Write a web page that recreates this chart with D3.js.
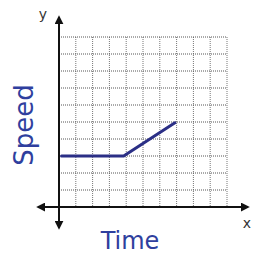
<!DOCTYPE html>
<html>
<head>
<meta charset="utf-8">
<script src="https://cdn.jsdelivr.net/npm/d3@7"></script>
<style>
  body { margin: 0; background: #fff; }
  svg { display: block; }
</style>
</head>
<body>
<svg width="253" height="256"></svg>
<script>
// values (grid units, 0..10 both ways)
var timeVals = [0.15, 3.85, 6.9];
var speedVals = [3, 3, 4.95];
var xLabel = "Time", yLabel = "Speed";

var svg = d3.select("svg");

var x = d3.scaleLinear().domain([0, 10]).range([59, 227]);
var y = d3.scaleLinear().domain([0, 10]).range([207, 37]);

var defs = svg.append("defs");
defs.append("marker")
  .attr("id", "arrow")
  .attr("viewBox", "0 0 10 10")
  .attr("refX", 8).attr("refY", 5)
  .attr("markerWidth", 4.5).attr("markerHeight", 4.5)
  .attr("orient", "auto-start-reverse")
  .append("path")
  .attr("d", "M0,0 L10,5 L0,10 z")
  .attr("fill", "#111");

// grid
var grid = svg.append("g");
grid.selectAll("line.v")
  .data(x.ticks(10))
  .enter().append("line")
  .attr("x1", function (d) { return x(d); })
  .attr("x2", function (d) { return x(d); })
  .attr("y1", y(10)).attr("y2", y(0))
  .attr("stroke", "#777")
  .attr("stroke-width", 1)
  .attr("stroke-dasharray", "1,1");
grid.selectAll("line.h")
  .data(y.ticks(10))
  .enter().append("line")
  .attr("y1", function (d) { return y(d); })
  .attr("y2", function (d) { return y(d); })
  .attr("x1", x(0)).attr("x2", x(10))
  .attr("stroke", "#555")
  .attr("stroke-width", 1)
  .attr("stroke-dasharray", "1,1");

// axes with arrows at both ends
svg.append("line")
  .attr("x1", 38).attr("x2", 248)
  .attr("y1", y(0)).attr("y2", y(0))
  .attr("stroke", "#111").attr("stroke-width", 2)
  .attr("marker-start", "url(#arrow)")
  .attr("marker-end", "url(#arrow)");
svg.append("line")
  .attr("x1", x(0)).attr("x2", x(0))
  .attr("y1", 228).attr("y2", 17)
  .attr("stroke", "#111").attr("stroke-width", 2)
  .attr("marker-start", "url(#arrow)")
  .attr("marker-end", "url(#arrow)");

svg.append("text")
  .attr("x", 43).attr("y", 19)
  .attr("text-anchor", "middle")
  .attr("font-family", "DejaVu Sans")
  .attr("font-size", 14)
  .attr("fill", "#333")
  .text("y");
svg.append("text")
  .attr("x", 247).attr("y", 228)
  .attr("text-anchor", "middle")
  .attr("font-family", "DejaVu Sans")
  .attr("font-size", 14)
  .attr("fill", "#333")
  .text("x");

// the plotted line
var pts = timeVals.map(function (t, i) { return [t, speedVals[i]]; });
svg.append("path")
  .datum(pts)
  .attr("d", d3.line()
    .x(function (d) { return x(d[0]); })
    .y(function (d) { return y(d[1]); }))
  .attr("fill", "none")
  .attr("stroke", "#2b2f86")
  .attr("stroke-width", 3)
  .attr("stroke-linecap", "round")
  .attr("stroke-linejoin", "round");

// hand-lettered labels
svg.append("text")
  .attr("transform", "translate(33,125) rotate(-90)")
  .attr("text-anchor", "middle")
  .attr("font-family", "DejaVu Sans")
  .attr("font-size", 26)
  .attr("fill", "#2f3f9e")
  .text(yLabel);
svg.append("text")
  .attr("x", 130).attr("y", 249)
  .attr("text-anchor", "middle")
  .attr("font-family", "DejaVu Sans")
  .attr("font-size", 24)
  .attr("fill", "#2f3f9e")
  .text(xLabel);
</script>
</body>
</html>
